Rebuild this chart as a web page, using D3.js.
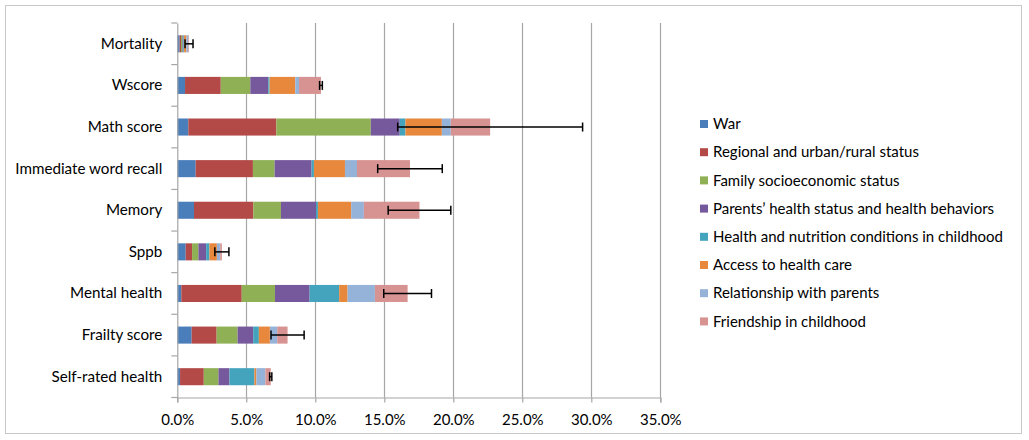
<!DOCTYPE html>
<html>
<head>
<meta charset="utf-8">
<script src="https://cdn.jsdelivr.net/npm/d3@7"></script>
<style>
  html, body { margin: 0; padding: 0; background: #fff; }
  svg { display: block; }
  text { font-family: Lato, "Open Sans", sans-serif; fill: #000; }
</style>
</head>
<body>
<svg id="chart" width="1029" height="440"></svg>
<script>
// ---- Data ----
const categories = ["Mortality", "Wscore", "Math score", "Immediate word recall", "Memory", "Sppb", "Mental health", "Frailty score", "Self-rated health"];
const seriesNames = ["War", "Regional and urban/rural status", "Family socioeconomic status", "Parents\u2019 health status and health behaviors", "Health and nutrition conditions in childhood", "Access to health care", "Relationship with parents", "Friendship in childhood"];
const war             = [0.17, 0.56, 0.80, 1.33, 1.21, 0.61, 0.29, 1.04, 0.20];
const regional        = [0.10, 2.59, 6.38, 4.15, 4.30, 0.46, 4.38, 1.81, 1.72];
const family          = [0.10, 2.14, 6.84, 1.57, 2.00, 0.46, 2.41, 1.52, 1.06];
const parents         = [0.07, 1.30, 2.10, 2.68, 2.54, 0.56, 2.51, 1.13, 0.80];
const healthNutrition = [0.05, 0.10, 0.41, 0.17, 0.14, 0.24, 2.14, 0.41, 1.81];
const access          = [0.17, 1.86, 2.64, 2.25, 2.41, 0.54, 0.61, 0.80, 0.14];
const relationship    = [0.14, 0.27, 0.65, 0.87, 0.92, 0.24, 1.98, 0.53, 0.65];
const friendship      = [0.05, 1.59, 2.85, 3.84, 4.03, 0.12, 2.37, 0.75, 0.39];
const errorHalf       = [0.29, 0.10, 6.70, 2.34, 2.27, 0.51, 1.73, 1.20, 0.08];
const xTicks = [0, 5, 10, 15, 20, 25, 30, 35];
const colors = ["#4A7EBB", "#B34A47", "#8FB054", "#76599C", "#44A4BE", "#E8883D", "#95B2D8", "#D79392"];

const seriesValues = [war, regional, family, parents, healthNutrition, access, relationship, friendship];

(function () {
const table = categories.map((c, i) => {
  const row = { category: c };
  seriesNames.forEach((s, j) => row[s] = seriesValues[j][i]);
  return row;
});

const svg = d3.select("#chart");

// outer border
svg.append("rect")
  .attr("x", 5.5).attr("y", 5.5).attr("width", 1016).attr("height", 428)
  .attr("fill", "#fff").attr("stroke", "#c8c8c8").attr("stroke-width", 1);

const pLeft = 177.3, pRight = 660.3, pTop = 23, pBottom = 397.5;

const x = d3.scaleLinear().domain([0, 35]).range([pLeft, pRight]);
const y = d3.scaleBand().domain(categories).range([pTop, pBottom]).paddingInner(0.59).paddingOuter(0.295);

// gridlines
svg.append("g").selectAll("line")
  .data(xTicks.slice(1))
  .join("line")
  .attr("x1", d => Math.round(x(d)) + 0.5).attr("x2", d => Math.round(x(d)) + 0.5)
  .attr("y1", pTop).attr("y2", pBottom)
  .attr("stroke", "#a6a6a6").attr("stroke-width", 1.2);

// stacked bars
const stacked = d3.stack().keys(seriesNames)(table);

svg.append("g").selectAll("g")
  .data(stacked)
  .join("g")
  .attr("fill", (d, i) => colors[i])
  .selectAll("rect")
  .data(d => d)
  .join("rect")
  .attr("x", d => x(d[0]))
  .attr("width", d => Math.max(0, x(d[1]) - x(d[0])))
  .attr("y", d => y(d.data.category))
  .attr("height", y.bandwidth());

// error bars
const totals = categories.map((c, i) => d3.sum(seriesValues, s => s[i]));
const eb = svg.append("g").attr("stroke", "#000").attr("stroke-width", 1.5);
categories.forEach((c, i) => {
  const cy = y(c) + y.bandwidth() / 2;
  const lo = x(totals[i] - errorHalf[i]), hi = x(totals[i] + errorHalf[i]);
  eb.append("line").attr("x1", lo).attr("x2", hi).attr("y1", cy).attr("y2", cy);
  eb.append("line").attr("x1", lo).attr("x2", lo).attr("y1", cy - 4.5).attr("y2", cy + 4.5);
  eb.append("line").attr("x1", hi).attr("x2", hi).attr("y1", cy - 4.5).attr("y2", cy + 4.5);
});

// x axis
const xAxis = svg.append("g")
  .attr("transform", `translate(0,${pBottom})`)
  .call(d3.axisBottom(x).tickValues(xTicks).tickFormat(d => d.toFixed(1) + "%").tickSize(5).tickPadding(12));
xAxis.select(".domain").attr("stroke", "#a6a6a6").attr("stroke-width", 1.2);
xAxis.selectAll(".tick line").attr("stroke", "#a6a6a6").attr("stroke-width", 1.2);
xAxis.selectAll("text").attr("font-size", 15).style("font-family", "Lato, sans-serif");

// y axis: labels
const yAxis = svg.append("g")
  .attr("transform", `translate(${pLeft},0)`)
  .call(d3.axisLeft(y).tickSize(0).tickPadding(15));
yAxis.select(".domain").attr("stroke", "#a6a6a6").attr("stroke-width", 1.2);
yAxis.selectAll("text").attr("font-size", 15.2).style("font-family", "Lato, sans-serif");

// y axis boundary ticks
const bounds = categories.map(c => y(c) - y.step() * y.paddingInner() / 2).concat([pBottom]);
svg.append("g").selectAll("line")
  .data(bounds)
  .join("line")
  .attr("x1", pLeft - 6).attr("x2", pLeft)
  .attr("y1", d => d).attr("y2", d => d)
  .attr("stroke", "#a6a6a6").attr("stroke-width", 1.2);

// legend
const legend = svg.append("g").attr("transform", "translate(700,124)");
seriesNames.forEach((s, i) => {
  const g = legend.append("g").attr("transform", `translate(0,${i * 28.2})`);
  g.append("rect").attr("x", 0).attr("y", -4).attr("width", 8).attr("height", 8).attr("fill", colors[i]);
  g.append("text").attr("x", 13).attr("y", 0).attr("dy", "0.35em").attr("font-size", 15).text(s);
});
})();
</script>
</body>
</html>
